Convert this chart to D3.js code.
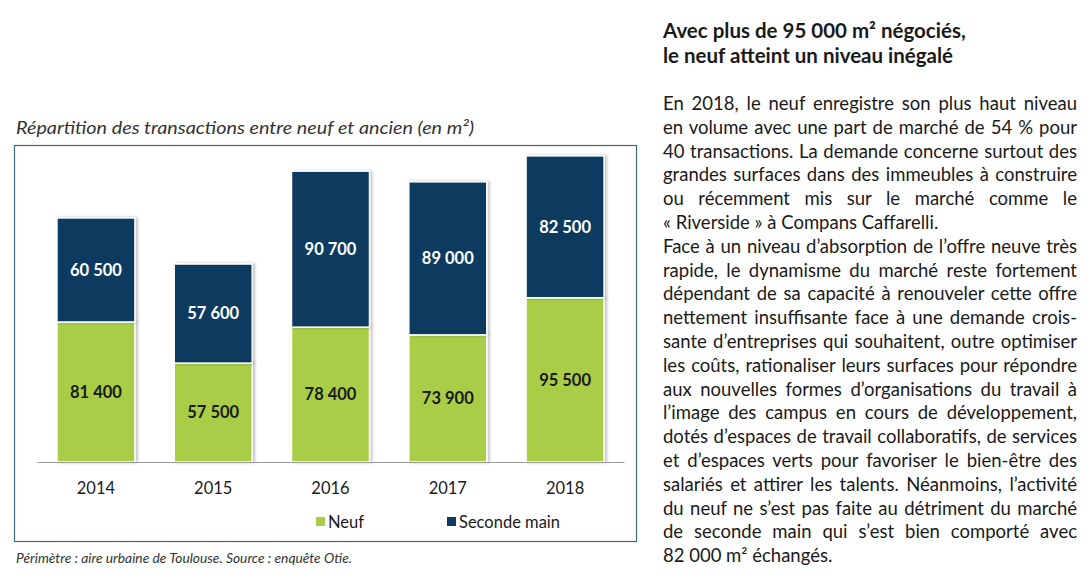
<!DOCTYPE html>
<html>
<head>
<meta charset="utf-8">
<script src="https://cdn.jsdelivr.net/npm/d3@7"></script>
<style>
  body { margin: 0; background: #fff; }
  #page { position: relative; width: 1090px; height: 583px; overflow: hidden; }
  #chart { position: absolute; left: 0; top: 0; }
  #texte { position: absolute; left: 663px; top: 0; width: 414px; font-family: Lato, "Open Sans", sans-serif; color: #1a1a1a; }
  .titre { position: absolute; left: 0; font-weight: bold; font-size: 20.5px; white-space: nowrap; line-height: 24px; }
  .ligne { position: absolute; left: 0; width: 414px; font-size: 16.6px; white-space: nowrap; line-height: 22px;
           text-align: justify; text-align-last: justify; }
  .ligne.fin { text-align-last: left; }
  .mesure { position: absolute; visibility: hidden; white-space: nowrap; font-size: 16.6px; }
</style>
</head>
<body>
<div id="page">
  <div id="chart"></div>
  <div id="texte"></div>
</div>
<script>
const years = ["2014", "2015", "2016", "2017", "2018"];
const neuf = [81400, 57500, 78400, 73900, 95500];
const secondeMain = [60500, 57600, 90700, 89000, 82500];
const seriesNames = ["Neuf", "Seconde main"];
const colors = ["#a9cd46", "#0f3a5f"];

const chartTitle = "Répartition des transactions entre neuf et ancien (en m²)";
const footnote = "Périmètre : aire urbaine de Toulouse. Source : enquête Otie.";

const heading = ["Avec plus de 95 000 m² négociés,", "le neuf atteint un niveau inégalé"];
const paragraph = [
  "En 2018, le neuf enregistre son plus haut niveau",
  "en volume avec une part de marché de 54 % pour",
  "40 transactions. La demande concerne surtout des",
  "grandes surfaces dans des immeubles à construire",
  "ou récemment mis sur le marché comme le",
  "« Riverside » à Compans Caffarelli.",
  "Face à un niveau d’absorption de l’offre neuve très",
  "rapide, le dynamisme du marché reste fortement",
  "dépendant de sa capacité à renouveler cette offre",
  "nettement insuffisante face à une demande crois-",
  "sante d’entreprises qui souhaitent, outre optimiser",
  "les coûts, rationaliser leurs surfaces pour répondre",
  "aux nouvelles formes d’organisations du travail à",
  "l’image des campus en cours de développement,",
  "dotés d’espaces de travail collaboratifs, de services",
  "et d’espaces verts pour favoriser le bien-être des",
  "salariés et attirer les talents. Néanmoins, l’activité",
  "du neuf ne s’est pas faite au détriment du marché",
  "de seconde main qui s’est bien comporté avec",
  "82 000 m² échangés."
];
const paragraphEnds = [5, 19];

const width = 650;
const height = 583;
const font = "Lato, 'Open Sans', sans-serif";

const svg = d3.select("#chart")
    .append("svg")
    .attr("width", width)
    .attr("height", height);

// Title
svg.append("text")
    .attr("x", 16)
    .attr("y", 134)
    .attr("font-family", font)
    .attr("font-style", "italic")
    .attr("font-size", 18)
    .attr("textLength", 458)
    .attr("lengthAdjust", "spacingAndGlyphs")
    .attr("fill", "#333")
    .text(chartTitle);

// Frame
svg.append("rect")
    .attr("x", 14.5)
    .attr("y", 145.5)
    .attr("width", 622)
    .attr("height", 396)
    .attr("fill", "none")
    .attr("stroke", "#3f6b80")
    .attr("stroke-width", 1.2);

// Scales
const x = d3.scaleBand()
    .domain(years)
    .range([37, 624])
    .paddingInner(0.335)
    .paddingOuter(0.17);

const y = d3.scaleLinear()
    .domain([0, 180000])
    .range([462, 152.4]);

// Stack
const table = years.map((yr, i) => ({ year: yr, Neuf: neuf[i], "Seconde main": secondeMain[i] }));
const stack = d3.stack().keys(seriesNames)(table);

// Shadow
const defs = svg.append("defs");
const f = defs.append("filter").attr("id", "ombre").attr("x", "-20%").attr("y", "-10%").attr("width", "140%").attr("height", "120%");
f.append("feDropShadow").attr("dx", 2).attr("dy", 0).attr("stdDeviation", 1.5).attr("flood-color", "#000").attr("flood-opacity", 0.25);

const layers = svg.append("g").selectAll("g")
    .data(stack)
    .join("g")
    .attr("fill", (d, i) => colors[i]);

layers.selectAll("rect")
    .data(d => d)
    .join("rect")
    .attr("x", d => x(d.data.year))
    .attr("y", d => y(d[1]))
    .attr("width", x.bandwidth())
    .attr("height", d => y(d[0]) - y(d[1]))
    .attr("stroke", "#fff")
    .attr("stroke-width", 1.5)
    .attr("filter", "url(#ombre)");

// Value labels
layers.selectAll("text")
    .data(d => d)
    .join("text")
    .attr("x", d => x(d.data.year) + x.bandwidth() / 2)
    .attr("y", d => (y(d[0]) + y(d[1])) / 2)
    .attr("dy", "0.35em")
    .attr("text-anchor", "middle")
    .attr("font-family", font)
    .attr("font-weight", "bold")
    .attr("font-size", 16.5)
    .attr("fill", function() { return d3.select(this.parentNode).datum().key === "Neuf" ? "#1a1a1a" : "#fff"; })
    .text(d => d3.format(",")(d[1] - d[0]).replace(",", " "));

// Axis
const axis = svg.append("g")
    .attr("transform", `translate(0,${y(0)})`)
    .call(d3.axisBottom(x).tickSize(0).tickPadding(20));
axis.select(".domain").attr("stroke", "#999").attr("stroke-width", 1.2);
axis.selectAll("text")
    .attr("font-family", font)
    .attr("font-size", 16.5)
    .attr("fill", "#1a1a1a");

// Legend
const legendX = [316, 447];
const legend = svg.append("g").selectAll("g")
    .data(seriesNames)
    .join("g")
    .attr("transform", (d, i) => `translate(${legendX[i]},522)`);
legend.append("rect")
    .attr("x", 0).attr("y", -5)
    .attr("width", 9).attr("height", 9)
    .attr("fill", (d, i) => colors[i]);
legend.append("text")
    .attr("x", 12)
    .attr("dy", "0.35em")
    .attr("font-family", font)
    .attr("font-size", 16.5)
    .attr("fill", "#1a1a1a")
    .text(d => d);

// Footnote
svg.append("text")
    .attr("x", 16)
    .attr("y", 563)
    .attr("font-family", font)
    .attr("font-style", "italic")
    .attr("font-size", 12.5)
    .attr("textLength", 336)
    .attr("lengthAdjust", "spacingAndGlyphs")
    .attr("fill", "#333")
    .text(footnote);

// Right-hand text
const texte = d3.select("#texte");
texte.selectAll("div.titre")
    .data(heading)
    .join("div")
    .attr("class", "titre")
    .style("top", (d, i) => (18 + i * 25) + "px")
    .text(d => d);

// pick a font size so the widest line just fits the column
const probe = texte.append("span").attr("class", "mesure");
let widest = 0;
paragraph.forEach(t => {
  probe.text(t);
  widest = Math.max(widest, probe.node().getBoundingClientRect().width);
});
probe.remove();
const bodySize = Math.min(18.5, 16.6 * 412 / widest);

texte.selectAll("div.ligne")
    .data(paragraph)
    .join("div")
    .attr("class", (d, i) => paragraphEnds.includes(i) ? "ligne fin" : "ligne")
    .style("font-size", bodySize + "px")
    .style("top", (d, i) => (92 + i * 23.8) + "px")
    .text(d => d);
</script>
</body>
</html>
